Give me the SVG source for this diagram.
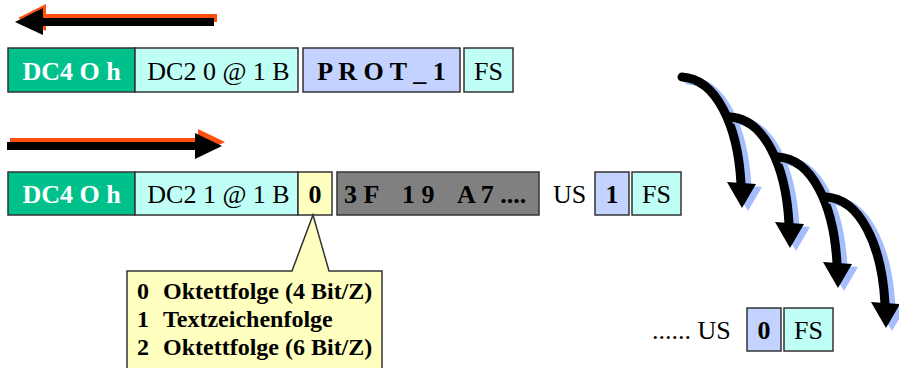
<svg xmlns="http://www.w3.org/2000/svg" width="899" height="368" viewBox="0 0 899 368">
<style>
.box{stroke:#333;stroke-width:1.5}
.t{font-family:"Liberation Serif","Times New Roman",serif;font-size:26px;fill:#000}
.b{font-weight:bold}
.w{fill:#fff}
.c{text-anchor:middle}
.ct{font-family:"Liberation Serif","Times New Roman",serif;font-size:24px;font-weight:bold;fill:#000}
.sh{fill:none;stroke:#a4bdfc;stroke-width:9;stroke-linecap:round}
.bk{fill:none;stroke:#000;stroke-width:9;stroke-linecap:round}
</style>
<g id="connectors">
<g id="arrow-left">
<g transform="translate(3,-4)" fill="#ff5010">
<rect x="43" y="18" width="171" height="8"/>
<path d="M43,8 L15,22 L43,35 Z"/>
</g>
<g fill="#000">
<rect x="43" y="18" width="171" height="8"/>
<path d="M43,8 L15,22 L43,35 Z"/>
</g>
</g>
<g id="arrow-right">
<g transform="translate(3,-4)" fill="#ff5010">
<rect x="7" y="142" width="189" height="8"/>
<path d="M195,133 L222,146 L195,159 Z"/>
</g>
<g fill="#000">
<rect x="7" y="142" width="189" height="8"/>
<path d="M195,133 L222,146 L195,159 Z"/>
</g>
</g>
<g id="curved-arrows">
<g>
<path class="sh" transform="translate(6,3)" d="M682,77 C716,79 738,125 741,184"/>
<path fill="#a4bdfc" transform="translate(6,3)" d="M727,182 L756,184 L742,208 Z"/>
<path class="bk" d="M682,77 C716,79 738,125 741,184"/>
<path fill="#000" d="M727,182 L756,184 L742,208 Z"/>
</g>
<g transform="translate(48,40)">
<path class="sh" transform="translate(6,3)" d="M682,77 C716,79 738,125 741,184"/>
<path fill="#a4bdfc" transform="translate(6,3)" d="M727,182 L756,184 L742,208 Z"/>
<path class="bk" d="M682,77 C716,79 738,125 741,184"/>
<path fill="#000" d="M727,182 L756,184 L742,208 Z"/>
</g>
<g transform="translate(96,80)">
<path class="sh" transform="translate(6,3)" d="M682,77 C716,79 738,125 741,184"/>
<path fill="#a4bdfc" transform="translate(6,3)" d="M727,182 L756,184 L742,208 Z"/>
<path class="bk" d="M682,77 C716,79 738,125 741,184"/>
<path fill="#000" d="M727,182 L756,184 L742,208 Z"/>
</g>
<g transform="translate(144,120)">
<path class="sh" transform="translate(6,3)" d="M682,77 C716,79 738,125 741,184"/>
<path fill="#a4bdfc" transform="translate(6,3)" d="M727,182 L756,184 L742,208 Z"/>
<path class="bk" d="M682,77 C716,79 738,125 741,184"/>
<path fill="#000" d="M727,182 L756,184 L742,208 Z"/>
</g>
</g>
</g>
<g id="row1">
<g id="r1-dc4"><rect class="box" x="8" y="48" width="127" height="44" fill="#00c08c"/><text class="t b w c" x="71.5" y="80">DC4 O h</text></g>
<g id="r1-dc2"><rect class="box" x="135" y="48" width="163" height="44" fill="#c0fff6"/><text class="t c" x="218.5" y="80">DC2 0 @ 1 B</text></g>
<g id="r1-prot"><rect class="box" x="303" y="48" width="157" height="44" fill="#c4d2ff"/><text class="t b c" x="381.5" y="80">P R O T _ 1</text></g>
<g id="r1-fs"><rect class="box" x="464" y="48" width="49" height="44" fill="#c0fff6"/><text class="t c" x="488.5" y="80">FS</text></g>
</g>
<g id="row2">
<g id="r2-dc4"><rect class="box" x="8" y="172" width="127" height="43" fill="#00c08c"/><text class="t b w c" x="71.5" y="203">DC4 O h</text></g>
<g id="r2-dc2"><rect class="box" x="135" y="172" width="163" height="43" fill="#c0fff6"/><text class="t c" x="218.5" y="203">DC2 1 @ 1 B</text></g>
<g id="r2-zero"><rect class="box" x="298" y="172" width="34" height="43" fill="#ffffc0"/><text class="t b c" x="315" y="203">0</text></g>
<g id="r2-data"><rect class="box" x="337" y="172" width="202" height="43" fill="#808080"/><text class="t b" y="203"><tspan x="344">3 F</tspan><tspan x="402">1 9</tspan><tspan x="457">A 7 ....</tspan></text></g>
<text id="r2-us" class="t" x="553" y="203">US</text>
<g id="r2-one"><rect class="box" x="595" y="172" width="34" height="43" fill="#c4d2ff"/><text class="t b c" x="612" y="203">1</text></g>
<g id="r2-fs"><rect class="box" x="632" y="172" width="49" height="43" fill="#c0fff6"/><text class="t c" x="656.5" y="203">FS</text></g>
</g>
<g id="callout">
<path d="M127,372 V271 H292 L313,215 L329,271 H382 V372" fill="#ffffc0" stroke="#333" stroke-width="1.5"/>
<text class="ct" y="299"><tspan x="137">0</tspan><tspan x="163">Oktettfolge (4 Bit/Z)</tspan></text>
<text class="ct" y="327"><tspan x="137">1</tspan><tspan x="163">Textzeichenfolge</tspan></text>
<text class="ct" y="355"><tspan x="137">2</tspan><tspan x="163">Oktettfolge (6 Bit/Z)</tspan></text>
</g>
<g id="row3">
<text id="r3-us" class="t" x="652" y="339">...... US</text>
<g id="r3-zero"><rect class="box" x="747" y="308" width="34" height="43" fill="#c4d2ff"/><text class="t b c" x="764" y="339">0</text></g>
<g id="r3-fs"><rect class="box" x="784" y="308" width="49" height="43" fill="#c0fff6"/><text class="t c" x="808.5" y="339">FS</text></g>
</g>
</svg>
